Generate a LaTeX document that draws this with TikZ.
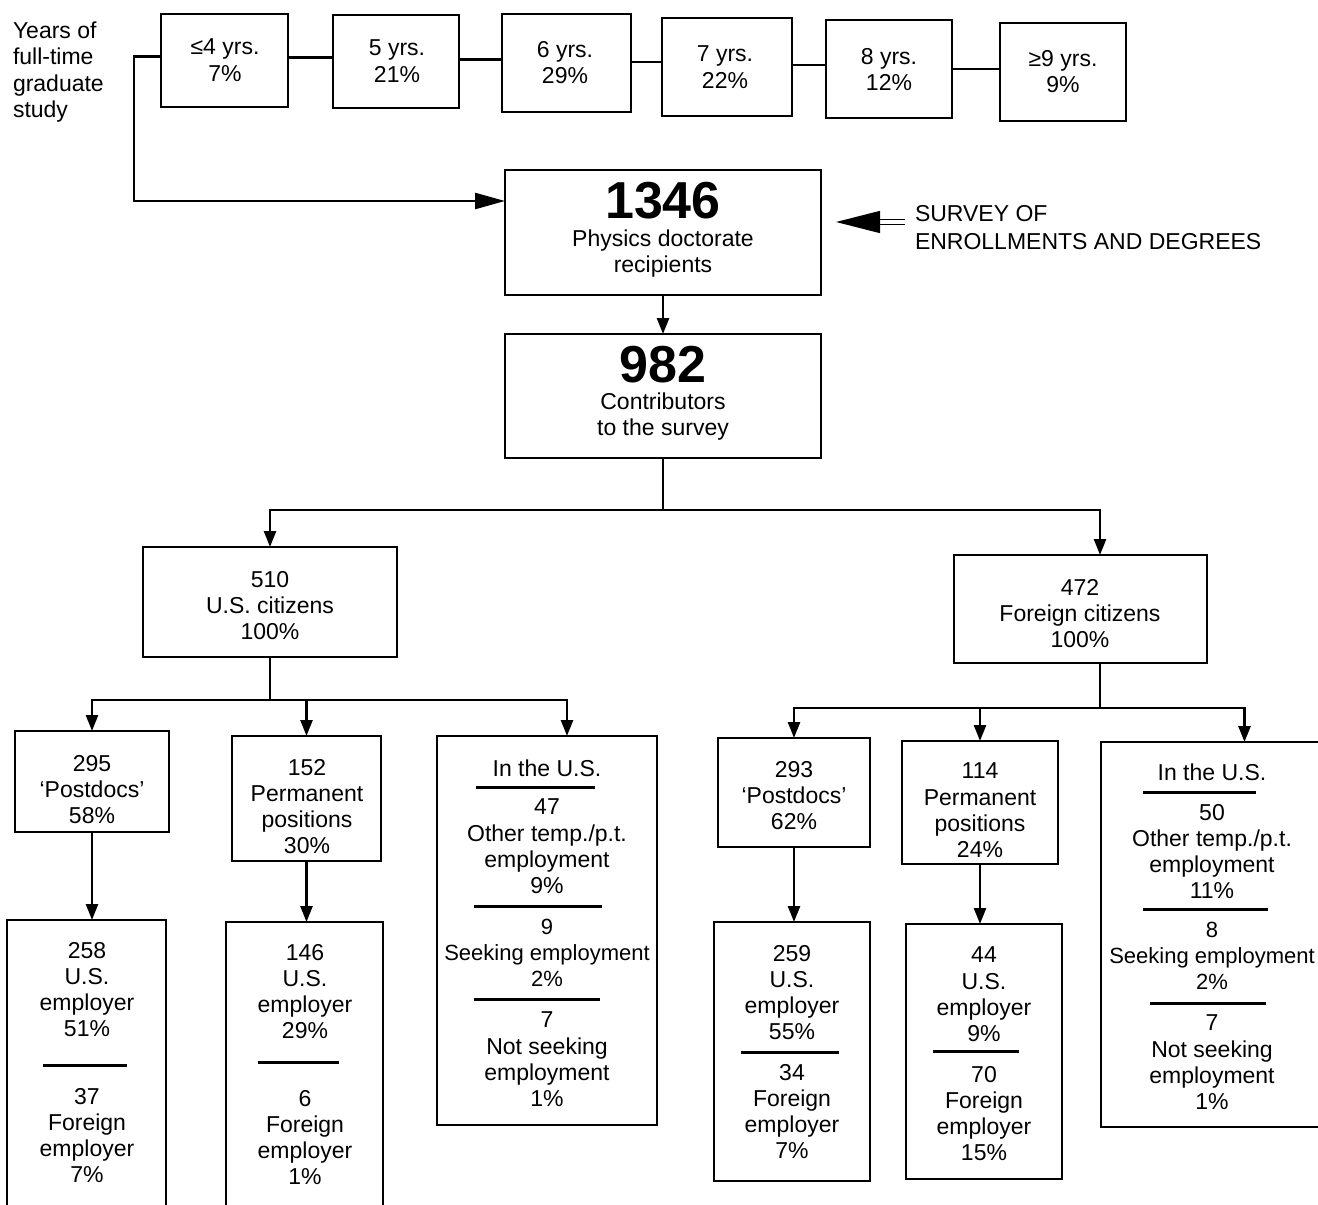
\documentclass[tikz,border=0pt]{standalone}
\usepackage{fontspec}
\setmainfont{Liberation Sans}
\usetikzlibrary{arrows.meta}
\tikzset{
  box/.style={draw, line width=2.5pt, rectangle, inner sep=0pt, outer sep=0pt},
  txt/.style={inner sep=0pt, outer sep=0pt, align=center, font=\fontsize{23}{26.3}\selectfont},
  ln/.style={line width=2.5pt},
  arr/.style={line width=2.5pt, -{Triangle[length=16pt,width=12pt]}},
  bigarr/.style={line width=2.5pt, -{Triangle[length=30pt,width=16pt]}},
  sepline/.style={line width=3pt},
  dblarr/.style={line width=1.4pt, double=white, double distance=4pt, -{Triangle[length=44pt,width=22pt]}}
}
\newcommand\bx[5]{\node[box, minimum width={#4pt-#2pt}, minimum height={#5pt-#3pt}] (#1) at ({(#2+#4)/2},{(#3+#5)/2}) {};}
\newcommand\tx[4]{\node[txt, anchor=north] (#1) at (#2,{#3-8}) {#4};}
\begin{document}
\begin{tikzpicture}[x=1pt,y=-1pt]
\useasboundingbox (0,0) rectangle (1318,1205);
\fill[white] (0,0) rectangle (1318,1205);
\begin{scope}
\clip (0,0) rectangle (1318,1205);
% left label
\node[txt, anchor=north west, align=left] (yrs) at (13,22) {Years of\\full-time\\graduate\\study};
% top row
\bx{y4}{161}{14}{288}{107}
\bx{y5}{333}{15}{459}{108}
\bx{y6}{502}{14}{631}{112}
\bx{y7}{662}{18}{792}{116}
\bx{y8}{826}{20}{952}{118}
\bx{y9}{1000}{23}{1126}{121}
\tx{ty4}{225}{47}{≤4 yrs.\\7\%}
\tx{ty5}{397}{48}{5 yrs.\\21\%}
\tx{ty6}{565}{49}{6 yrs.\\29\%}
\tx{ty7}{725}{54}{7 yrs.\\22\%}
\tx{ty8}{889}{56}{8 yrs.\\12\%}
\tx{ty9}{1063}{58}{≥9 yrs.\\9\%}
\draw[ln] ([yshift=3pt]y4.east) -- ([yshift=3pt]y4.east -| y5.west);
\draw[ln] ([yshift=2pt]y5.east) -- ([yshift=2pt]y5.east -| y6.west);
\draw[ln] ([yshift=1pt]y6.east) -- ([yshift=1pt]y6.east -| y7.west);
\draw[ln] ([yshift=2pt]y7.east) -- ([yshift=2pt]y7.east -| y8.west);
\draw[ln] (y8.east) -- (y8.east -| y9.west);
% main boxes
\bx{n1346}{505}{170}{821}{295}
\node[inner sep=0pt, anchor=north, font=\fontsize{52}{52}\selectfont\bfseries] (b1346) at (663,182) {1346};
\tx{t1346}{663}{238}{Physics doctorate\\recipients}
\bx{n982}{505}{334}{821}{458}
\node[inner sep=0pt, anchor=north, font=\fontsize{52}{52}\selectfont\bfseries] (b982) at (663,346) {982};
\tx{t982}{663}{401}{Contributors\\to the survey}
\coordinate (k1) at (134,201);
\draw[bigarr] ([yshift=4pt]y4.west) -| (k1) -- (n1346.west |- k1);
\draw[arr] (n1346.south) -- (n982.north);
% survey
\node[txt, anchor=north west, align=left, font=\fontsize{23}{28}\selectfont] (sv) at (915,205) {SURVEY OF\\ENROLLMENTS AND DEGREES};
\coordinate (sa) at (905,222);
\draw[dblarr, shorten >=15pt] (sa) -- (n1346.east |- sa);
% citizens
\bx{us}{143}{547}{397}{657}
\tx{tus}{270}{579}{510\\U.S. citizens\\100\%}
\bx{fc}{954}{555}{1207}{663}
\tx{tfc}{1080}{587}{472\\Foreign citizens\\100\%}
\coordinate (j1) at (663,510);
\draw[ln] (n982.south) -- (j1);
\draw[arr] (j1) -| (us.north);
\draw[arr] (j1) -| ([xshift=19.5pt]fc.north);
% US branch
\bx{pd1}{15}{731}{169}{832}
\tx{tpd1}{92}{763}{295\\‘Postdocs’\\58\%}
\bx{pp1}{232}{736}{381}{861}
\tx{tpp1}{307}{767}{152\\Permanent\\positions\\30\%}
\bx{iu1}{437}{736}{657}{1125}
\tx{tiu1a}{547}{768}{In the U.S.}
\tx{tiu1b}{547}{807}{47\\Other temp./p.t.\\employment\\9\%}
\node[txt, anchor=north, font=\fontsize{22}{26.3}\selectfont] (tiu1c) at (547,919) {9\\Seeking employment\\2\%};
\tx{tiu1d}{547}{1020}{7\\Not seeking\\employment\\1\%}
\draw[sepline] (476,787) -- (595,787);
\draw[sepline] (474,906) -- (602,906);
\draw[sepline] (474,999) -- (600,999);
\coordinate (j2) at (0,700);
\draw[ln] (us.south) -- (us.south |- j2);
\draw[arr] (us.south |- j2) -| (pd1.north);
\draw[arr] (us.south |- j2) -| (pp1.north);
\draw[arr] (us.south |- j2) -| ([xshift=20pt]iu1.north);
\bx{ue1}{7}{920}{166}{1215}
\tx{tue1a}{87}{950}{258\\U.S.\\employer\\51\%}
\draw[sepline] (43,1065) -- (127,1065);
\tx{tue1b}{87}{1096}{37\\Foreign\\employer\\7\%}
\bx{ue2}{226}{922}{383}{1215}
\tx{tue2a}{305}{952}{146\\U.S.\\employer\\29\%}
\draw[sepline] (258,1062) -- (339,1062);
\tx{tue2b}{305}{1098}{6\\Foreign\\employer\\1\%}
\draw[arr] (pd1.south) -- (pd1.south |- ue1.north);
\draw[arr] (pp1.south) -- (pp1.south |- ue2.north);
% Foreign branch
\bx{pd2}{718}{738}{870}{847}
\tx{tpd2}{794}{769}{293\\‘Postdocs’\\62\%}
\bx{pp2}{902}{741}{1058}{864}
\tx{tpp2}{980}{771}{114\\Permanent\\positions\\24\%}
\bx{iu2}{1101}{742}{1335}{1127}
\tx{tiu2a}{1212}{772}{In the U.S.}
\tx{tiu2b}{1212}{812}{50\\Other temp./p.t.\\employment\\11\%}
\node[txt, anchor=north, font=\fontsize{22}{26.3}\selectfont] (tiu2c) at (1212,922) {8\\Seeking employment\\2\%};
\tx{tiu2d}{1212}{1023}{7\\Not seeking\\employment\\1\%}
\draw[sepline] (1143,792) -- (1256,792);
\draw[sepline] (1143,909) -- (1268,909);
\draw[sepline] (1150,1003) -- (1266,1003);
\coordinate (j3) at (0,708);
\draw[ln] ([xshift=19.5pt]fc.south) -- ([xshift=19.5pt]fc.south |- j3);
\draw[arr] ([xshift=19.5pt]fc.south |- j3) -| (pd2.north);
\draw[arr] ([xshift=19.5pt]fc.south |- j3) -| (pp2.north);
\draw[arr] ([xshift=19.5pt]fc.south |- j3) -| ([xshift=26.5pt]iu2.north);
\bx{ue3}{714}{922}{870}{1181}
\tx{tue3a}{792}{953}{259\\U.S.\\employer\\55\%}
\draw[sepline] (741,1052) -- (839,1052);
\tx{tue3b}{792}{1072}{34\\Foreign\\employer\\7\%}
\bx{ue4}{906}{924}{1062}{1179}
\tx{tue4a}{984}{955}{44\\U.S.\\employer\\9\%}
\draw[sepline] (933,1051) -- (1019,1051);
\tx{tue4b}{984}{1074}{70\\Foreign\\employer\\15\%}
\draw[arr] (pd2.south) -- (pd2.south |- ue3.north);
\draw[arr] (pp2.south) -- (pp2.south |- ue4.north);
\end{scope}
\end{tikzpicture}
\end{document}
